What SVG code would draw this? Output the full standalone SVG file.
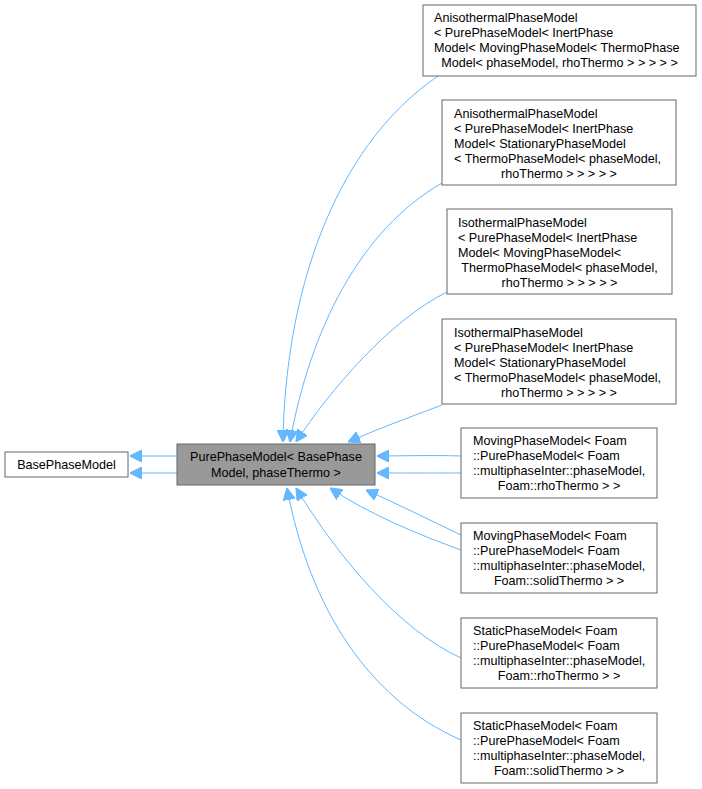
<svg xmlns="http://www.w3.org/2000/svg" width="702" height="789" viewBox="0 0 702 789">
<defs>
<style>
.n{fill:#fff;stroke:#666;stroke-width:1}
.t{font-family:"Liberation Sans",Arial,sans-serif;font-size:12.6px;fill:#000}
.e{fill:none;stroke:#63b8ff;stroke-width:1}
</style>
<marker id="a" viewBox="0 0 10 10" refX="10" refY="5" markerWidth="12" markerHeight="12" markerUnits="userSpaceOnUse" orient="auto"><path d="M0,0L10,5L0,10z" fill="#63b8ff" stroke="#63b8ff"/></marker>
</defs>
<rect width="702" height="789" fill="#fff"/>
<g id="edges">
<path class="e" marker-end="url(#a)" d="M177,456H130"/>
<path class="e" marker-end="url(#a)" d="M177,473H130"/>
<path class="e" marker-end="url(#a)" d="M461,456C430,455 400,456 377,456"/>
<path class="e" marker-end="url(#a)" d="M461,473C430,473 400,473 377,473"/>
<path class="e" marker-end="url(#a)" d="M461,535C430,520 395,503 366,490"/>
<path class="e" marker-end="url(#a)" d="M461,550C420,535 370,515 330,488"/>
<path class="e" marker-end="url(#a)" d="M438,76C330,150 285,300 283,442"/>
<path class="e" marker-end="url(#a)" d="M442,183C360,230 310,330 290,442"/>
<path class="e" marker-end="url(#a)" d="M447,292C390,320 330,390 296,442"/>
<path class="e" marker-end="url(#a)" d="M442,405C410,417 380,428 348,442"/>
<path class="e" marker-end="url(#a)" d="M461,658C400,630 340,560 296,488"/>
<path class="e" marker-end="url(#a)" d="M461,740C370,700 310,610 287,488"/>
</g>
<g id="base"><rect class="n" x="5" y="452" width="123" height="25"/><text class="t" x="66.5" y="469" text-anchor="middle">BasePhaseModel</text></g>
<g id="pure"><rect x="177" y="444" width="198" height="41" fill="#999" stroke="#666"/><text class="t" text-anchor="middle"><tspan x="276" y="461">PurePhaseModel&lt; BasePhase</tspan><tspan x="276" y="477">Model, phaseThermo &gt;</tspan></text></g>
<g id="n1"><rect class="n" x="423" y="5" width="273" height="71"/><text class="t"><tspan x="434" y="22">AnisothermalPhaseModel</tspan><tspan x="434" y="37">&lt; PurePhaseModel&lt; InertPhase</tspan><tspan x="434" y="52">Model&lt; MovingPhaseModel&lt; ThermoPhase</tspan><tspan x="559.5" y="67" text-anchor="middle">Model&lt; phaseModel, rhoThermo &gt; &gt; &gt; &gt; &gt;</tspan></text></g>
<g id="n2"><rect class="n" x="442" y="100" width="234" height="85"/><text class="t"><tspan x="454" y="118">AnisothermalPhaseModel</tspan><tspan x="454" y="133">&lt; PurePhaseModel&lt; InertPhase</tspan><tspan x="454" y="148">Model&lt; StationaryPhaseModel</tspan><tspan x="454" y="163">&lt; ThermoPhaseModel&lt; phaseModel,</tspan><tspan x="559" y="178" text-anchor="middle">rhoThermo &gt; &gt; &gt; &gt; &gt;</tspan></text></g>
<g id="n3"><rect class="n" x="447" y="209" width="225" height="85"/><text class="t"><tspan x="458" y="227">IsothermalPhaseModel</tspan><tspan x="458" y="242">&lt; PurePhaseModel&lt; InertPhase</tspan><tspan x="458" y="257">Model&lt; MovingPhaseModel&lt;</tspan><tspan x="559.5" y="272" text-anchor="middle">ThermoPhaseModel&lt; phaseModel,</tspan><tspan x="559.5" y="287" text-anchor="middle">rhoThermo &gt; &gt; &gt; &gt; &gt;</tspan></text></g>
<g id="n4"><rect class="n" x="442" y="319" width="234" height="85"/><text class="t"><tspan x="454" y="337">IsothermalPhaseModel</tspan><tspan x="454" y="352">&lt; PurePhaseModel&lt; InertPhase</tspan><tspan x="454" y="367">Model&lt; StationaryPhaseModel</tspan><tspan x="454" y="382">&lt; ThermoPhaseModel&lt; phaseModel,</tspan><tspan x="559" y="397" text-anchor="middle">rhoThermo &gt; &gt; &gt; &gt; &gt;</tspan></text></g>
<g id="n5"><rect class="n" x="461" y="428" width="196" height="70"/><text class="t"><tspan x="473" y="445">MovingPhaseModel&lt; Foam</tspan><tspan x="473" y="460">::PurePhaseModel&lt; Foam</tspan><tspan x="473" y="475">::multiphaseInter::phaseModel,</tspan><tspan x="559" y="490" text-anchor="middle">Foam::rhoThermo &gt; &gt;</tspan></text></g>
<g id="n6"><rect class="n" x="461" y="523" width="196" height="70"/><text class="t"><tspan x="473" y="540">MovingPhaseModel&lt; Foam</tspan><tspan x="473" y="555">::PurePhaseModel&lt; Foam</tspan><tspan x="473" y="570">::multiphaseInter::phaseModel,</tspan><tspan x="559" y="585" text-anchor="middle">Foam::solidThermo &gt; &gt;</tspan></text></g>
<g id="n7"><rect class="n" x="461" y="618" width="196" height="70"/><text class="t"><tspan x="473" y="635">StaticPhaseModel&lt; Foam</tspan><tspan x="473" y="650">::PurePhaseModel&lt; Foam</tspan><tspan x="473" y="665">::multiphaseInter::phaseModel,</tspan><tspan x="559" y="680" text-anchor="middle">Foam::rhoThermo &gt; &gt;</tspan></text></g>
<g id="n8"><rect class="n" x="461" y="713" width="196" height="70"/><text class="t"><tspan x="473" y="730">StaticPhaseModel&lt; Foam</tspan><tspan x="473" y="745">::PurePhaseModel&lt; Foam</tspan><tspan x="473" y="760">::multiphaseInter::phaseModel,</tspan><tspan x="559" y="775" text-anchor="middle">Foam::solidThermo &gt; &gt;</tspan></text></g>
</svg>
